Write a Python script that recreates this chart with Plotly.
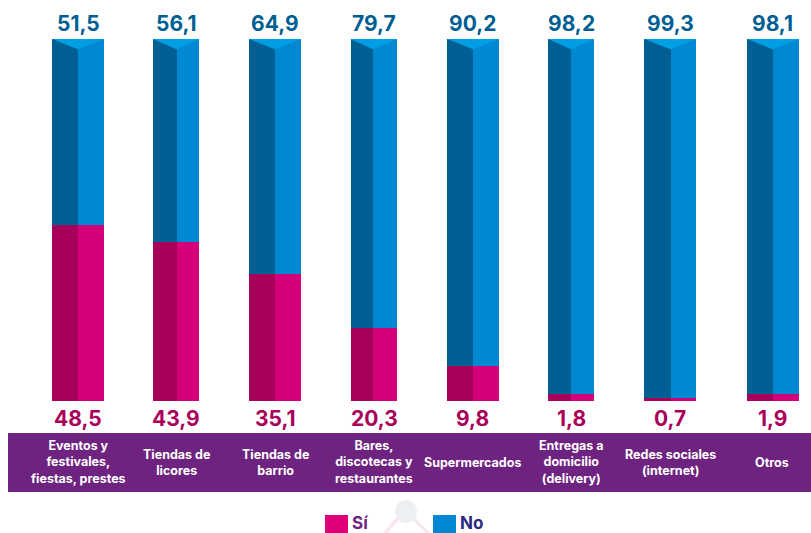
import plotly.graph_objects as go

categories = ["Eventos y<br>festivales,<br>fiestas, prestes", "Tiendas de<br>licores", "Tiendas de<br>barrio",
              "Bares,<br>discotecas y<br>restaurantes", "Supermercados", "Entregas a<br>domicilio<br>(delivery)",
              "Redes sociales<br>(internet)", "Otros"]
si_values = [48.5, 43.9, 35.1, 20.3, 9.8, 1.8, 0.7, 1.9]
no_values = [51.5, 56.1, 64.9, 79.7, 90.2, 98.2, 99.3, 98.1]

# layout geometry, in pixels of the page
W, H = 811, 533
PLOT_TOP, PLOT_BOTTOM = 39, 401
left_edges = [52, 153, 249, 350.5, 447, 548, 644, 747]
mid_points = [78, 176.5, 275, 373, 473, 571, 670.5, 772.5]
right_edges = [104, 199, 301, 397, 499, 594, 696, 799]
label_centers = [78, 176, 275, 374, 472.5, 571, 670, 772]
CAP_DEPTH = 2.8

FONT = "Inter"
BLUE_DARK, BLUE, BLUE_CAP = "#006094", "#0089D2", "#009FE3"
PINK_DARK, PINK = "#A6005B", "#D4007A"
BLUE_TEXT, PINK_TEXT = "#005F92", "#AA0059"
PURPLE = "#6F2380"


def px(y):
    return 1 - y / H


left_w = [m - l for l, m in zip(left_edges, mid_points)]
right_w = [r - m for r, m in zip(right_edges, mid_points)]

fig = go.Figure()
for name, vals, x, w, c in [
    ("Sí", si_values, left_edges, left_w, PINK_DARK),
    ("No", no_values, left_edges, left_w, BLUE_DARK),
    ("Sí", si_values, mid_points, right_w, PINK),
    ("No", no_values, mid_points, right_w, BLUE),
]:
    fig.add_bar(name=name, x=x, y=vals, width=w, offset=0, marker=dict(color=c, line=dict(width=0)),
                showlegend=False, hoverinfo="name+y")

# top faces of the prisms
cap_x, cap_y = [], []
for l, m, r, s, n in zip(left_edges, mid_points, right_edges, si_values, no_values):
    total = s + n
    cap_x += [l, m, r, l, None]
    cap_y += [total, total - CAP_DEPTH, total, total, None]
fig.add_scatter(x=cap_x, y=cap_y, mode="lines", fill="toself", fillcolor=BLUE_CAP,
                line=dict(width=0, color=BLUE_CAP), hoverinfo="skip", showlegend=False)

annotations = []
for c, s, n, cat in zip(label_centers, si_values, no_values, categories):
    annotations.append(dict(x=c, y=s + n, yref="y", yshift=15, text=f"{n:.1f}".replace(".", ","),
                            font=dict(family=FONT, size=21, color=BLUE_TEXT, weight=700),
                            showarrow=False, yanchor="middle"))
    annotations.append(dict(x=c, y=0, yref="y", yshift=-17, text=f"{s:.1f}".replace(".", ","),
                            font=dict(family=FONT, size=21, color=PINK_TEXT, weight=700),
                            showarrow=False, yanchor="middle"))
    annotations.append(dict(x=c, y=px(462), yref="paper", text=cat, align="center",
                            font=dict(family=FONT, size=12.5, color="white", weight=700),
                            showarrow=False, yanchor="middle"))
annotations.append(dict(x=350, y=px(523), yref="paper", text="Sí", xanchor="left", showarrow=False,
                        font=dict(family=FONT, size=17, color=PURPLE, weight=700), yanchor="middle"))
annotations.append(dict(x=458, y=px(523), yref="paper", text="No", xanchor="left", showarrow=False,
                        font=dict(family=FONT, size=17, color="#2C2A7F", weight=700), yanchor="middle"))

shapes = [
    dict(type="rect", xref="x", yref="paper", x0=8, x1=W, y0=px(492), y1=px(433), fillcolor=PURPLE, line_width=0, layer="below"),
    dict(type="line", xref="x", yref="paper", x0=385, x1=405, y0=px(533), y1=px(510), line=dict(color="#FBE3EF", width=3), layer="below"),
    dict(type="line", xref="x", yref="paper", x0=405, x1=428, y0=px(510), y1=px(533), line=dict(color="#FBE3EF", width=3), layer="below"),
    dict(type="circle", xref="x", yref="paper", x0=395, x1=417, y0=px(523), y1=px(500), fillcolor="#EDF0F3", line_width=0, layer="below"),
    dict(type="rect", xref="x", yref="paper", x0=325, x1=348, y0=px(533), y1=px(515), fillcolor="#E2007A", line_width=0),
    dict(type="rect", xref="x", yref="paper", x0=433, x1=456, y0=px(533), y1=px(515), fillcolor=BLUE, line_width=0),
]

fig.update_layout(
    width=W, height=H, margin=dict(l=0, r=0, t=0, b=0), barmode="stack",
    paper_bgcolor="white", plot_bgcolor="white", showlegend=False,
    annotations=annotations, shapes=shapes,
    xaxis=dict(range=[0, W], visible=False, fixedrange=True),
    yaxis=dict(range=[0, 100], domain=[px(PLOT_BOTTOM), px(PLOT_TOP)], visible=False, fixedrange=True),
)
fig.write_html("out.html", config={"displayModeBar": False},
               post_script="document.body.style.margin='0';document.documentElement.style.overflow='hidden';")
